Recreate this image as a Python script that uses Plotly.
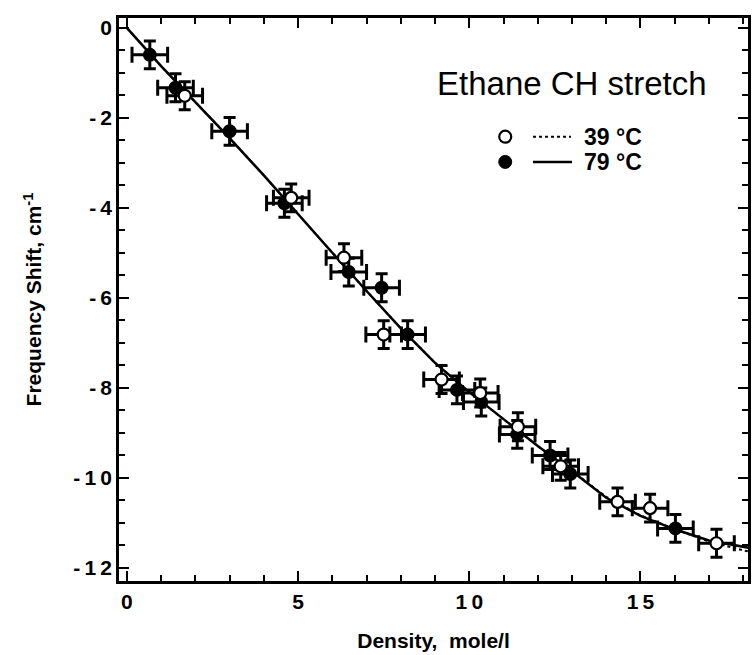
import plotly.graph_objects as go

# ---- data ----
dens_39 = [1.69, 4.80, 6.34, 7.50, 9.19, 10.32, 11.42, 12.67, 14.33, 15.28, 17.22]
shift_39 = [-1.51, -3.78, -5.11, -6.82, -7.82, -8.12, -8.87, -9.75, -10.54, -10.68, -11.46]

dens_79 = [0.67, 1.42, 3.00, 4.60, 6.48, 7.44, 8.20, 9.64, 10.35, 11.40, 12.36, 12.95, 16.02]
shift_79 = [-0.60, -1.33, -2.30, -3.90, -5.43, -5.78, -6.82, -8.05, -8.32, -9.04, -9.51, -9.92, -11.13]

err_dens = 0.52   # horizontal error half-width
err_shift = 0.31  # vertical error half-height

fit_dens = [0, 1, 2, 3, 4, 5, 6, 7, 8, 9, 10, 11, 12, 13, 14, 15, 16, 17, 18, 18.3]
fit_39 = [0, -0.85, -1.65, -2.45, -3.28, -4.15, -5.00, -5.85, -6.68, -7.45, -8.10,
          -8.70, -9.30, -9.85, -10.43, -10.84, -11.15, -11.42, -11.62, -11.66]
fit_79 = [0, -0.85, -1.65, -2.45, -3.28, -4.15, -5.00, -5.85, -6.68, -7.45, -8.10,
          -8.70, -9.30, -9.86, -10.45, -10.85, -11.15, -11.40, -11.55, -11.58]

T = "\u2009"
x_ticks = [0, 5, 10, 15]
x_labels = ["0", "5", "1" + T + "0", "1" + T + "5"]
y_ticks = [0, -2, -4, -6, -8, -10, -12]
y_labels = ["0", "-" + T + "2", "-" + T + "4", "-" + T + "6", "-" + T + "8",
            "-" + T + "1" + T + "0", "-" + T + "1" + T + "2"]

FONT = "Liberation Sans, Arial, Helvetica, sans-serif"

fig = go.Figure()

fig.add_trace(go.Scatter(x=fit_dens, y=fit_39, mode="lines",
                         line=dict(color="black", width=2, dash="3px,3px"),
                         showlegend=False, hoverinfo="skip"))
fig.add_trace(go.Scatter(x=fit_dens, y=fit_79, mode="lines",
                         line=dict(color="black", width=2.5),
                         showlegend=False, hoverinfo="skip"))

err_kw_x = dict(type="constant", value=err_dens, color="black", thickness=3, width=8)
err_kw_y = dict(type="constant", value=err_shift, color="black", thickness=3, width=6)

fig.add_trace(go.Scatter(x=dens_79, y=shift_79, mode="markers",
                         marker=dict(symbol="circle", size=12, color="black",
                                     line=dict(color="black", width=2)),
                         error_x=err_kw_x, error_y=err_kw_y, showlegend=False))
fig.add_trace(go.Scatter(x=dens_39, y=shift_39, mode="markers",
                         marker=dict(symbol="circle", size=12, color="white",
                                     line=dict(color="black", width=2.2)),
                         error_x=err_kw_x, error_y=err_kw_y, showlegend=False))

axis_common = dict(showline=True, linecolor="black", linewidth=2.5, mirror="ticks",
                   ticks="inside", tickcolor="black", tickwidth=2, ticklen=10,
                   showgrid=False, zeroline=False,
                   tickfont=dict(family=FONT, size=21, color="black", weight="bold"))

fig.update_xaxes(range=[-0.23, 18.14], tickvals=x_ticks, ticktext=x_labels,
                 minor=dict(dtick=1, ticklen=6, tickwidth=2, tickcolor="black", ticks="inside"),
                 title=dict(text="Density,  mole/l", standoff=22,
                            font=dict(family=FONT, size=21, color="black", weight="bold")),
                 **axis_common)
fig.update_yaxes(range=[-12.3, 0.22], tickvals=y_ticks, ticktext=y_labels,
                 minor=dict(dtick=0.5, ticklen=6, tickwidth=2, tickcolor="black", ticks="inside"),
                 title=dict(text="Frequency Shift, cm<sup>-1</sup>", standoff=26,
                            font=dict(family=FONT, size=21, color="black", weight="bold")),
                 **axis_common)

# ---- legend drawn by hand ----
fig.add_annotation(x=13.0, y=-1.24, xref="x", yref="y", text="Ethane CH stretch",
                   showarrow=False, font=dict(family=FONT, size=33, color="black"))
leg_y = [-2.42, -2.98]
fig.add_shape(type="circle", xref="x", yref="y", xsizemode="pixel", ysizemode="pixel",
              xanchor=11.05, yanchor=leg_y[0], x0=-6, x1=6, y0=-6, y1=6,
              line=dict(color="black", width=2.2), fillcolor="white")
fig.add_shape(type="circle", xref="x", yref="y", xsizemode="pixel", ysizemode="pixel",
              xanchor=11.05, yanchor=leg_y[1], x0=-6.5, x1=6.5, y0=-6.5, y1=6.5,
              line=dict(color="black", width=1), fillcolor="black")
fig.add_shape(type="line", xref="x", yref="y", x0=11.86, x1=12.97, y0=leg_y[0], y1=leg_y[0],
              line=dict(color="black", width=2, dash="3px,3px"))
fig.add_shape(type="line", xref="x", yref="y", x0=11.86, x1=13.0, y0=leg_y[1], y1=leg_y[1],
              line=dict(color="black", width=2.5))
for yy, txt in zip(leg_y, ["39 °C", "79 °C"]):
    fig.add_annotation(x=13.3, y=yy, xref="x", yref="y", text=txt, showarrow=False,
                       xanchor="left", font=dict(family=FONT, size=23, color="black", weight="bold"))

fig.update_layout(width=754, height=655, margin=dict(l=119, r=3, t=18, b=74),
                  paper_bgcolor="white", plot_bgcolor="white")

fig.write_html("out.html")
